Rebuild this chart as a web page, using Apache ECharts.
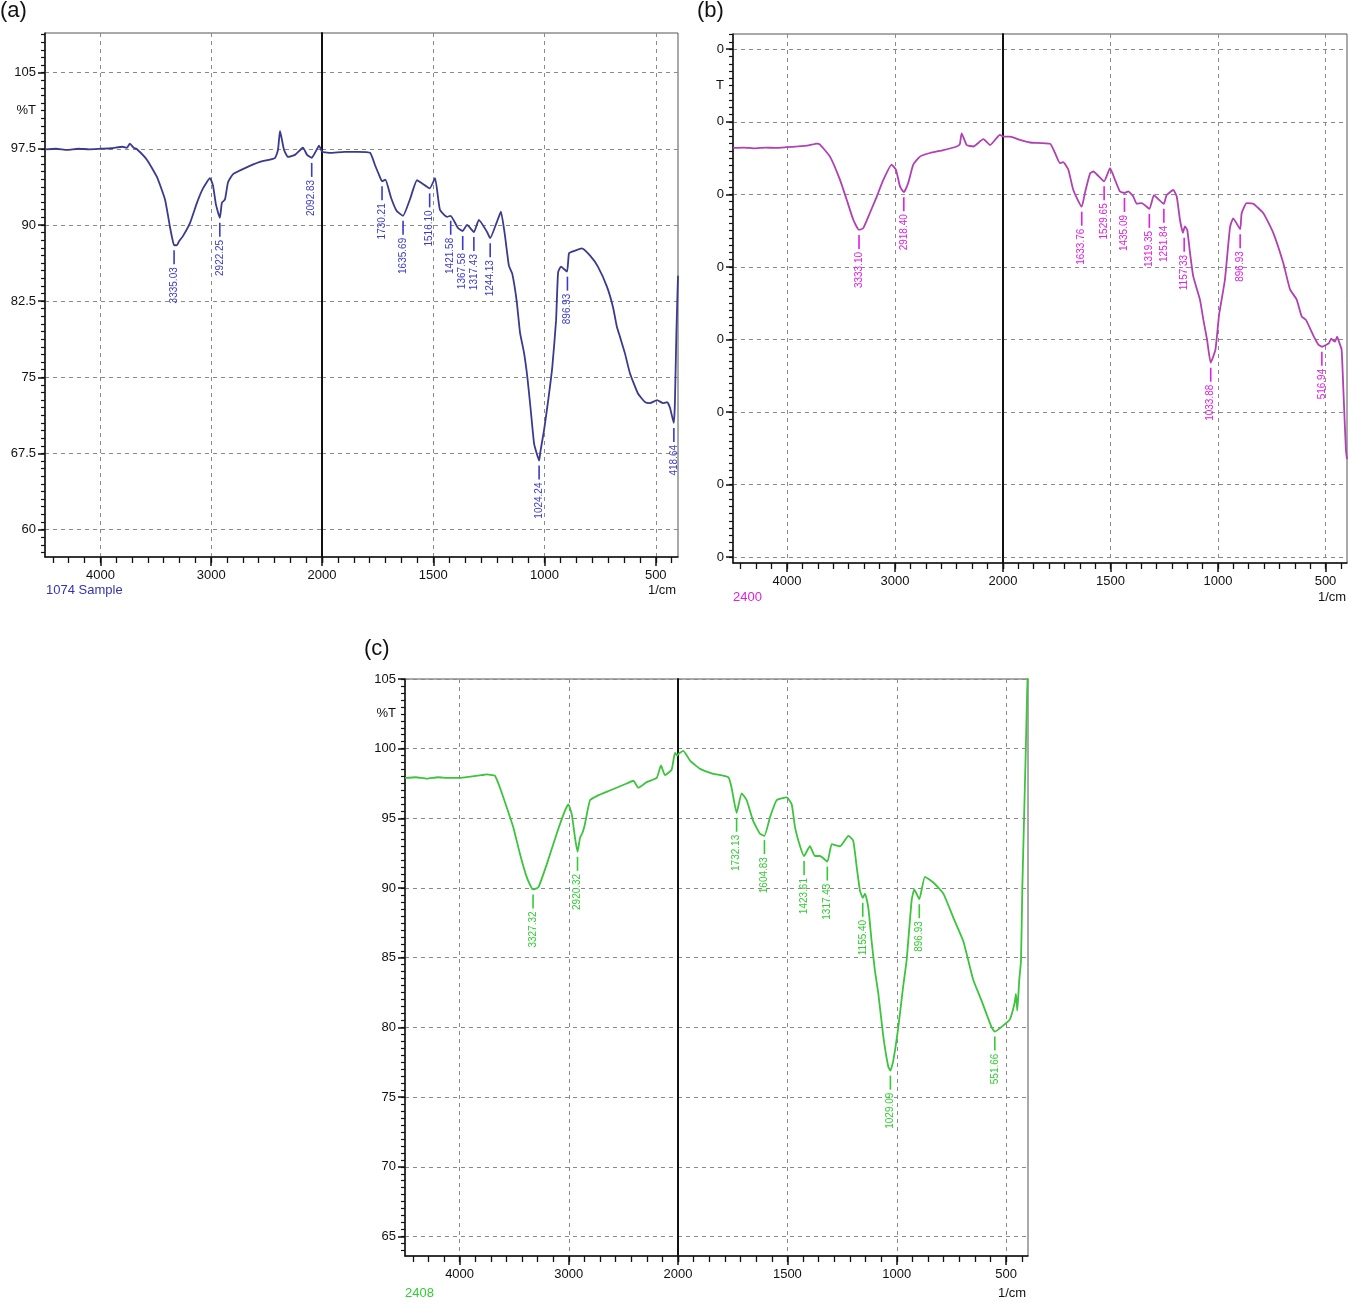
<!DOCTYPE html>
<html><head><meta charset="utf-8">
<script src="https://cdn.jsdelivr.net/npm/echarts@6/dist/echarts.min.js"></script>
<style>html,body{margin:0;padding:0;background:#fff}#c{width:1350px;height:1306px}</style>
</head><body><div id="c"></div>
<script>
// ---------- DATA ----------
// Panel (a) "1074 Sample"
const wavenumbersA = [4500,4400,4300,4200,4100,4000,3900,3800,3760,3734,3700,3670,3579,3489,3417,3372,3350,3335,3310,3290,3255,3191,3128,3074,3011,2984,2957,2922,2903,2876,2848,2803,2695,2560,2424,2397,2379,2343,2307,2244,2172,2135,2093,2063,2027,2000,
  1964,1900,1840,1784,1762,1745,1730,1715,1690,1665,1636,1605,1573,1551,1516,1492,1470,1438,1422,1389,1368,1348,1317,1295,1258,1244,1214,1196,1178,1160,1145,1125,1110,1092,1077,1062,1047,1035,1024,1019,1002,983,965,948,939,926,899,890,872,832,796,760,719,692,675,661,639,616,580,548,526,494,467,449,436,419,414,407,400];
const transmittanceA = [97.45,97.5,97.4,97.5,97.45,97.5,97.55,97.7,97.6,98.0,97.6,97.45,96.4,94.7,92.5,89.8,88.6,88.0,88.0,88.4,88.9,90.2,92.2,93.6,94.6,93.9,92.0,90.7,92.2,92.5,94.2,95.0,95.6,96.2,96.6,97.4,99.25,97.4,96.7,96.9,97.6,96.9,96.6,97.1,97.8,97.2,
  97.1,97.2,97.2,97.1,95.9,95.0,94.3,94.45,92.7,91.4,90.9,92.5,94.4,94.1,93.6,94.6,91.5,90.8,90.9,89.7,89.4,90.0,89.3,90.5,89.3,88.7,90.3,91.3,89.0,86.0,85.2,82.5,79.4,77.4,75.0,71.8,68.5,67.5,66.8,67.6,69.8,72.8,76.0,80.6,85.3,85.9,85.4,87.2,87.4,87.7,87.0,85.9,83.9,81.9,80.0,79.0,77.4,75.4,73.4,72.55,72.45,72.75,72.45,72.55,72.0,70.5,72.4,79.6,85.0];
const peakWavenumbersA = [3335.03,2922.25,2092.83,1730.21,1635.69,1516.10,1421.58,1367.58,1317.43,1244.13,1024.24,896.93,418.64];
const peakTransmittanceA = [88.0,90.7,96.6,94.3,90.9,93.6,90.9,89.4,89.3,88.7,66.8,85.4,70.5];

// Panel (b) "2400"
const wavenumbersB = [4500,4400,4300,4200,4100,4000,3900,3800,3722,3694,3602,3509,3447,3386,3333,3294,3231,3169,3108,3031,2991,2954,2918,2877,2831,2769,2676,2553,2429,2400,2383,2336,2275,2182,2120,2028,2000,
  1967,1921,1874,1781,1758,1735,1720,1696,1673,1634,1619,1595,1580,1530,1502,1479,1456,1435,1417,1394,1378,1355,1319,1298,1278,1252,1239,1208,1192,1177,1163,1154,1143,1130,1115,1084,1068,1051,1034,1012,995,968,944,929,897,890,867,836,789,743,696,665,634,611,591,554,533,517,484,474,456,446,435,425,415,405,400];
const transmittanceB = [96.4,96.45,96.35,96.45,96.4,96.5,96.6,96.75,97.0,96.85,95.2,92.0,89.25,86.5,85.1,85.35,87.5,89.7,92.0,94.1,93.4,91.1,90.3,91.6,94.1,95.2,95.7,96.1,96.6,96.9,98.4,96.8,96.6,97.6,96.8,98.2,97.97,
  97.97,97.5,97.15,96.97,95.7,94.3,94.45,93.4,90.6,88.3,90.2,92.9,93.15,91.8,93.6,92.0,90.4,90.2,90.4,89.7,88.7,88.8,88.0,89.9,89.35,88.7,89.9,90.6,89.7,86.5,84.7,85.6,85.1,81.9,78.7,75.5,72.7,70.0,66.8,68.6,73.4,78.2,85.5,86.7,85.2,87.4,88.8,88.7,87.4,84.7,80.5,76.9,75.5,73.2,72.7,70.4,69.3,69.0,69.5,70.1,69.7,70.4,69.5,68.6,61.7,54.8,53.5];
const peakWavenumbersB = [3333.10,2918.40,1633.76,1529.65,1435.09,1319.35,1251.84,1157.33,1033.88,896.93,516.94];
const peakTransmittanceB = [85.1,90.3,88.3,91.8,90.2,88.0,88.7,84.7,66.8,85.2,69.0];

// Panel (c) "2408"
const wavenumbersC = [4500,4400,4300,4200,4100,4000,3900,3800,3752,3700,3676,3630,3569,3508,3447,3386,3340,3327,3279,3202,3111,3035,3004,2973,2943,2920,2897,2873,2852,2806,2744,2623,2470,2409,2363,2287,2195,2156,2119,2058,2028,2006,2000,
  1976,1945,1899,1839,1770,1755,1732,1709,1686,1656,1625,1605,1579,1549,1503,1480,1465,1442,1424,1397,1374,1351,1317,1297,1259,1221,1199,1183,1168,1155,1145,1130,1115,1100,1084,1061,1039,1029,1016,993,971,955,932,920,897,871,833,787,742,696,673,650,612,566,552,505,482,462,455,449,440,432,426,418,410,404,400];
const transmittanceC = [97.9,97.95,97.85,97.95,97.9,97.9,98.0,98.1,98.15,98.1,98.06,97.2,95.8,94.35,92.45,90.8,90.0,89.9,90.05,91.7,93.9,95.55,96.0,95.3,93.6,92.6,93.6,94.0,94.6,96.3,96.6,97.0,97.5,97.7,97.2,97.6,97.9,98.8,98.1,98.5,99.7,99.5,99.6,
  99.85,99.15,98.55,98.2,97.95,97.2,95.4,96.8,96.3,94.8,93.9,93.75,95.1,96.3,96.5,96.0,94.35,93.0,92.3,93.0,92.3,92.3,91.9,93.15,93.0,93.75,93.4,91.5,89.8,89.3,89.6,88.6,86.2,84.1,82.4,79.3,77.2,76.9,77.6,80.0,82.9,84.8,89.1,89.9,89.2,90.8,90.4,89.6,87.9,86.2,84.8,83.4,81.9,80.0,79.7,80.25,80.6,81.7,82.4,81.2,83.4,84.8,90.0,95.0,100.0,104.0,106.0];
const peakWavenumbersC = [3327.32,2920.32,1732.13,1604.83,1423.61,1317.43,1155.40,1029.09,896.93,551.66];
const peakTransmittanceC = [89.9,92.6,95.4,93.8,92.3,91.9,89.3,76.9,89.2,79.7];

// Tick labels
const xTickLabelsLeft = [4000, 3000, 2000];
const xTickLabelsRight = [1500, 1000, 500];
const yTicksA = [60, 67.5, 75, 82.5, 90, 97.5, 105];
const yTickLabelsA = ['60', '67.5', '75', '82.5', '90', '97.5', '105'];
const yTicksB = [40, 50, 60, 70, 80, 90, 100, 110];
const yTickLabelsB = ['0', '0', '0', '0', '0', '0', '0', '0'];
const yTicksC = [65, 70, 75, 80, 85, 90, 95, 100, 105];
const yTickLabelsC = ['65', '70', '75', '80', '85', '90', '95', '100', '105'];

// ---------- LAYOUT / STYLE ----------
const FONT = '"Liberation Sans Narrow","Liberation Sans",Arial,sans-serif';
const panels = [
  {wn: wavenumbersA, tr: transmittanceA, pkW: peakWavenumbersA, pkT: peakTransmittanceA,
   lineColor: '#3a3a8e', labelColor: '#3b3bc8', yMin: 57.3, yMax: 108.9, yTicks: yTicksA, yLabels: yTickLabelsA,
   yMinorStep: 0.75, unitValue: 101.25, unitLabel: '%T', left: 45, mid: 322, right: 678, top: 33, bottom: 557},
  {wn: wavenumbersB, tr: transmittanceB, pkW: peakWavenumbersB, pkT: peakTransmittanceB,
   lineColor: '#b040b4', labelColor: '#e020e0', yMin: 39.2, yMax: 112.1, yTicks: yTicksB, yLabels: yTickLabelsB,
   yMinorStep: 1, unitValue: 105, unitLabel: 'T', left: 733, mid: 1003, right: 1347, top: 34, bottom: 563},
  {wn: wavenumbersC, tr: transmittanceC, pkW: peakWavenumbersC, pkT: peakTransmittanceC,
   lineColor: '#3cc43c', labelColor: '#33cc33', yMin: 63.6, yMax: 105, yTicks: yTicksC, yLabels: yTickLabelsC,
   yMinorStep: 0.5, unitValue: 102.5, unitLabel: '%T', left: 405, mid: 678, right: 1028, top: 679, bottom: 1256}
];

function minorX(from, to, step) { // ticks every step from anchor 'from' toward 'to'
  const out = [];
  for (let k = 0; ; k++) { const v = from - k * step; if (v < to - 1e-6) break; out.push(v); }
  return out;
}
const minorLeft = minorX(4500 - (500 % (1000/7)), 2000, 1000/7).concat([]);
// anchor left ticks on 4000
const minorLeftTicks = [];
for (let k = -3; k <= 14; k++) { const v = 4000 - k * 1000 / 7; if (v <= 4500 && v >= 2000 - 1e-6) minorLeftTicks.push(v); }
const minorRightTicks = [];
for (let k = 0; k <= 22; k++) { const v = 2000 - k * 500 / 7; if (v >= 400) minorRightTicks.push(v); }

const grids = [], xAxes = [], yAxes = [], series = [];

panels.forEach((p) => {
  const yMinor = [];
  for (let k = Math.ceil(p.yMin / p.yMinorStep); k * p.yMinorStep <= p.yMax + 1e-9; k++) yMinor.push(Math.round(k * p.yMinorStep * 1000) / 1000);
  const sides = [
    {left: p.left, width: p.mid - p.left, min: 2000, max: 4500, labels: xTickLabelsLeft, majors: xTickLabelsLeft, minors: minorLeftTicks,
     pick: (w) => w >= 2000, first: true},
    {left: p.mid, width: p.right - p.mid, min: 400, max: 2000, labels: xTickLabelsRight, majors: xTickLabelsRight, minors: minorRightTicks,
     pick: (w) => w <= 2000, first: false}
  ];
  sides.forEach((s) => {
    const gi = grids.length;
    grids.push({left: s.left, top: p.top, width: s.width, height: p.bottom - p.top, show: true,
      borderColor: '#555', borderWidth: 1, backgroundColor: 'rgba(0,0,0,0)', containLabel: false, outerBoundsMode: 'none'});
    xAxes.push({gridIndex: gi, type: 'value', inverse: true, min: s.min, max: s.max, position: 'bottom',
      axisLine: {show: true, onZero: false, lineStyle: {color: '#111', width: 1.5}},
      axisTick: {show: true, customValues: s.majors, length: 9, lineStyle: {color: '#111', width: 1.5}},
      axisLabel: {show: true, customValues: s.labels, showMinLabel: true, showMaxLabel: true, color: '#111', fontSize: 13, fontFamily: FONT, margin: 12,
        formatter: (v) => String(v)},
      splitLine: {show: true, lineStyle: {color: '#8a8a8a', type: [4, 4], width: 1}}});
    xAxes.push({gridIndex: gi, type: 'value', inverse: true, min: s.min, max: s.max, position: 'bottom',
      axisLine: {show: false}, axisLabel: {show: false}, splitLine: {show: false},
      axisTick: {show: true, customValues: s.minors, length: 6, lineStyle: {color: '#111', width: 1.3}}});
    if (s.first) {
      yAxes.push({gridIndex: gi, type: 'value', min: p.yMin, max: p.yMax, position: 'left',
        axisLine: {show: true, onZero: false, lineStyle: {color: '#111', width: 1.5}},
        axisTick: {show: true, customValues: p.yTicks, length: 7, lineStyle: {color: '#111', width: 1.5}},
        axisLabel: {show: true, customValues: p.yTicks.concat([p.unitValue]), showMinLabel: true, showMaxLabel: true,
          color: '#111', fontSize: 13, fontFamily: FONT, margin: 9,
          formatter: (v) => { const i = p.yTicks.findIndex(t => Math.abs(t - v) < 1e-6); return i >= 0 ? p.yLabels[i] : p.unitLabel; }},
        splitLine: {show: true, lineStyle: {color: '#8a8a8a', type: [4, 4], width: 1}}});
      yAxes.push({gridIndex: gi, type: 'value', min: p.yMin, max: p.yMax, position: 'left',
        axisLine: {show: false}, axisLabel: {show: false}, splitLine: {show: false},
        axisTick: {show: true, customValues: yMinor, length: 4, lineStyle: {color: '#111', width: 1.2}}});
    } else {
      yAxes.push({gridIndex: gi, type: 'value', min: p.yMin, max: p.yMax, position: 'left',
        axisLine: {show: true, onZero: false, lineStyle: {color: '#111', width: 2}},
        axisTick: {show: true, customValues: p.yTicks, length: 1, lineStyle: {color: '#111', width: 1, opacity: 0}},
        axisLabel: {show: false},
        splitLine: {show: true, lineStyle: {color: '#8a8a8a', type: [4, 4], width: 1}}});
      yAxes.push({gridIndex: gi, type: 'value', min: p.yMin, max: p.yMax, position: 'left', show: false});
    }
    const lineData = [];
    p.wn.forEach((w, i) => { if (s.pick(w)) lineData.push([w, p.tr[i]]); });
    series.push({type: 'line', xAxisIndex: 2 * gi, yAxisIndex: 2 * gi, data: lineData, showSymbol: false, symbol: 'none',
      smooth: 0.15, clip: true, z: 4, lineStyle: {color: p.lineColor, width: 1.8}, silent: true, animation: false});
    const pkIdx = [];
    p.pkW.forEach((w, i) => { if (s.pick(w)) pkIdx.push(i); });
    const pkData = pkIdx.map(i => [p.pkW[i], p.pkT[i]]);
    const pkText = pkIdx.map(i => p.pkW[i].toFixed(2));
    series.push({type: 'custom', xAxisIndex: 2 * gi, yAxisIndex: 2 * gi, data: pkData, z: 5, silent: true, animation: false, clip: false,
      renderItem: (params, api) => {
        const pt = api.coord([api.value(0), api.value(1)]);
        return {type: 'group', children: [
          {type: 'line', shape: {x1: pt[0], y1: pt[1] + 5, x2: pt[0], y2: pt[1] + 19}, style: {stroke: p.labelColor, lineWidth: 1.6}},
          {type: 'text', x: pt[0], y: pt[1] + 22, rotation: Math.PI / 2,
           style: {text: pkText[params.dataIndex], fill: p.labelColor, font: '10px "Liberation Sans", Arial, sans-serif',
             align: 'right', verticalAlign: 'middle', textAlign: 'right', textVerticalAlign: 'middle'}}
        ]};
      }});
  });
});

const txt = (left, top, text, color, size, extra) => Object.assign({type: 'text', left, top,
  style: {text, fill: color, font: size + 'px ' + FONT}}, extra || {});
const graphic = [
  txt(0, 0, '(a)', '#111', 22, {style: {text: '(a)', fill: '#111', font: '22px "Liberation Sans", Arial, sans-serif'}}),
  txt(697, 0, '(b)', '#111', 22, {style: {text: '(b)', fill: '#111', font: '22px "Liberation Sans", Arial, sans-serif'}}),
  txt(364, 638, '(c)', '#111', 22, {style: {text: '(c)', fill: '#111', font: '22px "Liberation Sans", Arial, sans-serif'}}),
  txt(46, 584, '1074 Sample', '#3333b0', 13),
  txt(648, 584, '1/cm', '#111', 13),
  txt(733, 591, '2400', '#e020e0', 13),
  txt(1318, 591, '1/cm', '#111', 13),
  txt(405, 1287, '2408', '#33cc33', 13),
  txt(998, 1287, '1/cm', '#111', 13)
];

const chart = echarts.init(document.getElementById('c'), null, {renderer: 'canvas'});
chart.setOption({animation: false, backgroundColor: '#fff', grid: grids, xAxis: xAxes, yAxis: yAxes, series, graphic});
</script></body></html>
